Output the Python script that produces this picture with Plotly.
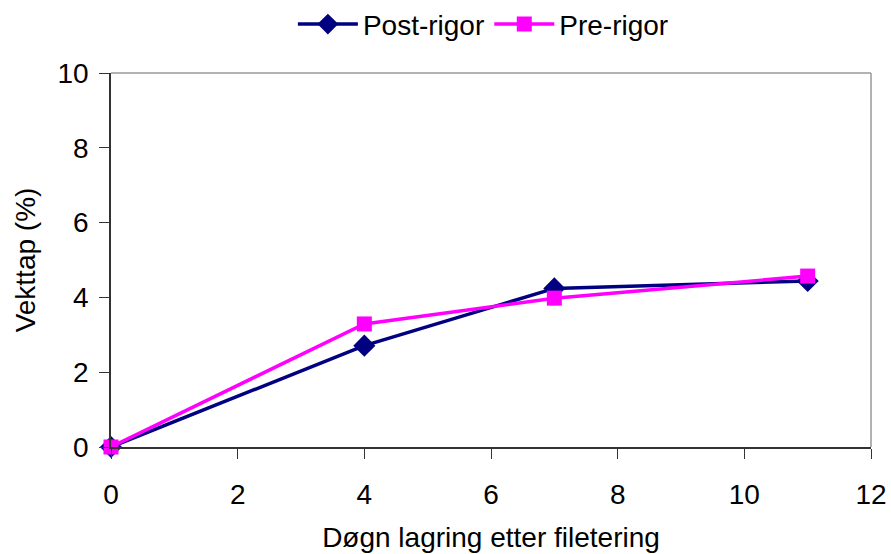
import plotly.graph_objects as go

# Storage time (days) and weight loss (%)
days = [0, 4, 7, 11]
post_rigor = [0.0, 2.71, 4.24, 4.44]
pre_rigor = [0.0, 3.29, 3.98, 4.57]

x_ticks = [0, 2, 4, 6, 8, 10, 12]
y_ticks = [0, 2, 4, 6, 8, 10]

font_family = "Liberation Sans, Arial, sans-serif"
font_size = 28

fig = go.Figure()
fig.add_trace(go.Scatter(
    x=days, y=post_rigor, name="Post-rigor", mode="lines+markers",
    line=dict(color="#000080", width=3.5),
    marker=dict(symbol="diamond", size=17, color="#000080"),
    cliponaxis=False,
))
fig.add_trace(go.Scatter(
    x=days, y=pre_rigor, name="Pre-rigor", mode="lines+markers",
    line=dict(color="#FF00FF", width=3.5),
    marker=dict(symbol="square", size=15, color="#FF00FF"),
    cliponaxis=False,
))

axis_common = dict(
    showgrid=False, zeroline=False, showline=True, linecolor="#333333", linewidth=1.5,
    ticks="outside", ticklen=10, tickcolor="#333333", tickwidth=1,
    tickfont=dict(size=font_size, color="black", family=font_family),
    automargin=False, ticklabeloverflow="allow",
)

fig.update_xaxes(
    range=[0, 12], tickvals=x_ticks, ticklabelstandoff=12,
    title=dict(text="Døgn lagring etter filetering", font=dict(size=font_size, color="black", family=font_family), standoff=18),
    **axis_common,
)
fig.update_yaxes(
    range=[0, 10], tickvals=y_ticks, ticklabelstandoff=5,
    title=dict(text="Vekttap (%)", font=dict(size=font_size, color="black", family=font_family), standoff=14),
    **axis_common,
)

# grey frame on top and right of the plot area
fig.add_shape(type="line", xref="paper", yref="paper", x0=0, x1=1, y0=1, y1=1,
              line=dict(color="#999999", width=1.5))
fig.add_shape(type="line", xref="paper", yref="paper", x0=1, x1=1, y0=0, y1=1,
              line=dict(color="#999999", width=1.5))

fig.update_layout(
    width=891, height=554,
    margin=dict(l=111, r=20, t=73, b=107, autoexpand=False),
    paper_bgcolor="white", plot_bgcolor="white",
    font=dict(family=font_family, color="black"),
    showlegend=True,
    legend=dict(
        orientation="h", x=0.49, xanchor="center", y=1.13, yanchor="middle",
        font=dict(size=font_size, color="black", family=font_family),
        itemwidth=60, tracegroupgap=0,
    ),
)

fig.write_html("out.html")
